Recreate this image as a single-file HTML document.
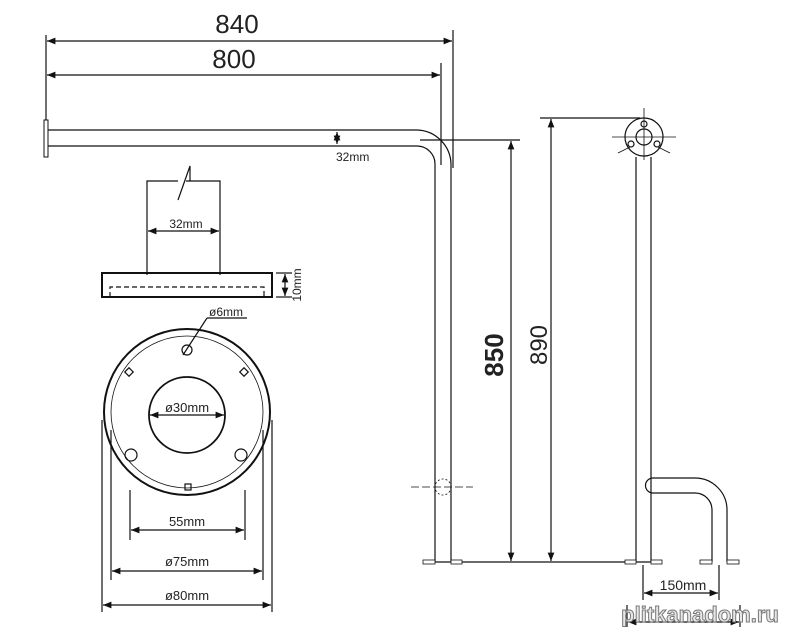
<!DOCTYPE html><html><head><style>body{margin:0;background:#fff}svg{display:block}text{font-family:"Liberation Sans",sans-serif;fill:#222}</style></head><body>
<svg width="795" height="627" viewBox="0 0 795 627" xmlns="http://www.w3.org/2000/svg">
<defs><marker id="a" viewBox="0 0 10 10" refX="10" refY="5" markerWidth="7" markerHeight="7" orient="auto-start-reverse"><path d="M0,1L10,5L0,9z" fill="#111"/></marker></defs>
<g stroke="#111" fill="none" stroke-width="1.2">
<line x1="46" y1="35" x2="46" y2="120"/>
<line x1="453" y1="30" x2="453" y2="168"/>
<line x1="441" y1="63" x2="441" y2="165"/>
<line x1="47" y1="41" x2="452" y2="41" marker-start="url(#a)" marker-end="url(#a)"/>
<line x1="47" y1="75" x2="440" y2="75" marker-start="url(#a)" marker-end="url(#a)"/>
<rect x="44" y="120" width="4" height="37" fill="#fff" stroke-width="1"/>
<path d="M48 130H417A35 35 0 0 1 451 165V562"/>
<path d="M48 146H417A18 18 0 0 1 435 164V562"/>
<line x1="420" y1="140" x2="520" y2="140"/>
<line x1="337" y1="132" x2="337" y2="144" marker-start="url(#a)" marker-end="url(#a)"/>
<path d="M178 181H147V275M220 275V181H186"/>
<path d="M178 200L190 166V181"/>
<line x1="148" y1="231" x2="219" y2="231" marker-start="url(#a)" marker-end="url(#a)"/>
<rect x="102" y="273" width="170" height="24" stroke-width="2"/>
<path d="M110 297V287H264V297" stroke-dasharray="5,3"/>
<line x1="276" y1="273" x2="292" y2="273"/><line x1="276" y1="297" x2="292" y2="297"/>
<line x1="285" y1="274" x2="285" y2="296" marker-start="url(#a)" marker-end="url(#a)"/>
<circle cx="187" cy="412" r="83" stroke-width="2"/>
<circle cx="187" cy="412" r="76" stroke-width="0.8"/>
<circle cx="187" cy="415" r="38" stroke-width="1.8"/>
<circle cx="187" cy="350" r="5"/><line x1="183" y1="355" x2="207" y2="318"/><line x1="207" y1="318" x2="247" y2="318"/>
<circle cx="131" cy="455" r="6"/><circle cx="241" cy="455" r="6"/>
<rect x="126" y="369" width="6" height="6" transform="rotate(45 129 372)"/>
<rect x="241" y="369" width="6" height="6" transform="rotate(45 244 372)"/>
<rect x="185" y="484" width="6" height="6"/>
<line x1="150" y1="415" x2="224" y2="415" marker-start="url(#a)" marker-end="url(#a)"/>
<line x1="130" y1="490" x2="130" y2="540"/><line x1="245" y1="490" x2="245" y2="540"/>
<line x1="131" y1="530" x2="244" y2="530" marker-start="url(#a)" marker-end="url(#a)"/>
<line x1="111" y1="430" x2="111" y2="580"/><line x1="263" y1="430" x2="263" y2="580"/>
<line x1="112" y1="571" x2="262" y2="571" marker-start="url(#a)" marker-end="url(#a)"/>
<line x1="102" y1="420" x2="102" y2="612"/><line x1="272" y1="420" x2="272" y2="612"/>
<line x1="103" y1="605" x2="271" y2="605" marker-start="url(#a)" marker-end="url(#a)"/>
<line x1="423" y1="562" x2="662" y2="562"/>
<rect x="423" y="560" width="12" height="4" fill="#fff" stroke-width="0.8"/><rect x="451" y="560" width="11" height="4" fill="#fff" stroke-width="0.8"/>
<line x1="511" y1="141" x2="511" y2="561" marker-start="url(#a)" marker-end="url(#a)"/>
<line x1="540" y1="118" x2="640" y2="118"/>
<line x1="551" y1="119" x2="551" y2="561" marker-start="url(#a)" marker-end="url(#a)"/>
<circle cx="443" cy="487" r="8" stroke-dasharray="2,2" stroke-width="0.8"/>
<line x1="411" y1="487" x2="473" y2="487" stroke-dasharray="8,3" stroke-width="0.8"/>
<line x1="636" y1="157" x2="636" y2="562"/><line x1="651" y1="157" x2="651" y2="562"/>
<circle cx="644" cy="137" r="19"/><circle cx="644" cy="137" r="8"/>
<circle cx="644" cy="124" r="3"/><circle cx="631" cy="144" r="3"/><circle cx="657" cy="144" r="3"/>
<line x1="612" y1="137" x2="676" y2="137" stroke-width="0.8"/><line x1="644" y1="108" x2="644" y2="160" stroke-width="0.8"/>
<line x1="618" y1="153" x2="630" y2="147" stroke-width="0.8"/><line x1="670" y1="153" x2="658" y2="147" stroke-width="0.8"/>
<path d="M653 478H695A32 32 0 0 1 727 510V562M653 493H695A17 17 0 0 1 712 510V562M653 478A7.5 7.5 0 0 0 653 493"/>
<rect x="625" y="560" width="11" height="4" fill="#fff" stroke-width="0.8"/><rect x="651" y="560" width="11" height="4" fill="#fff" stroke-width="0.8"/>
<rect x="700" y="560" width="12" height="4" fill="#fff" stroke-width="0.8"/><rect x="727" y="560" width="12" height="4" fill="#fff" stroke-width="0.8"/>
<line x1="643" y1="565" x2="643" y2="600"/><line x1="719" y1="565" x2="719" y2="600"/>
<line x1="644" y1="593" x2="718" y2="593" marker-start="url(#a)" marker-end="url(#a)"/>
<line x1="627" y1="605" x2="627" y2="627"/><line x1="740" y1="605" x2="740" y2="627"/>
<line x1="628" y1="622" x2="739" y2="622" marker-start="url(#a)" marker-end="url(#a)"/>
</g>
<text x="237" y="33" font-size="26" text-anchor="middle">840</text>
<text x="234" y="68" font-size="26" text-anchor="middle">800</text>
<text x="336" y="161" font-size="12">32mm</text>
<text x="186" y="228" font-size="12" text-anchor="middle">32mm</text>
<text transform="translate(301 285) rotate(-90)" font-size="12" text-anchor="middle">10mm</text>
<text x="226" y="316" font-size="12" text-anchor="middle">ø6mm</text>
<text x="187" y="412" font-size="13" text-anchor="middle">ø30mm</text>
<text x="187" y="526" font-size="13" text-anchor="middle">55mm</text>
<text x="187" y="566" font-size="13" text-anchor="middle">ø75mm</text>
<text x="187" y="600" font-size="13" text-anchor="middle">ø80mm</text>
<text transform="translate(503 355) rotate(-90)" font-size="26" text-anchor="middle" font-weight="bold">850</text>
<text transform="translate(547 345) rotate(-90)" font-size="24" text-anchor="middle">890</text>
<text x="683" y="590" font-size="14" text-anchor="middle">150mm</text>
<text x="700" y="622" font-size="22" text-anchor="middle" font-weight="bold" style="fill:#e8e8e8;stroke:#777;stroke-width:1">plitkanadom.ru</text>
</svg></body></html>
